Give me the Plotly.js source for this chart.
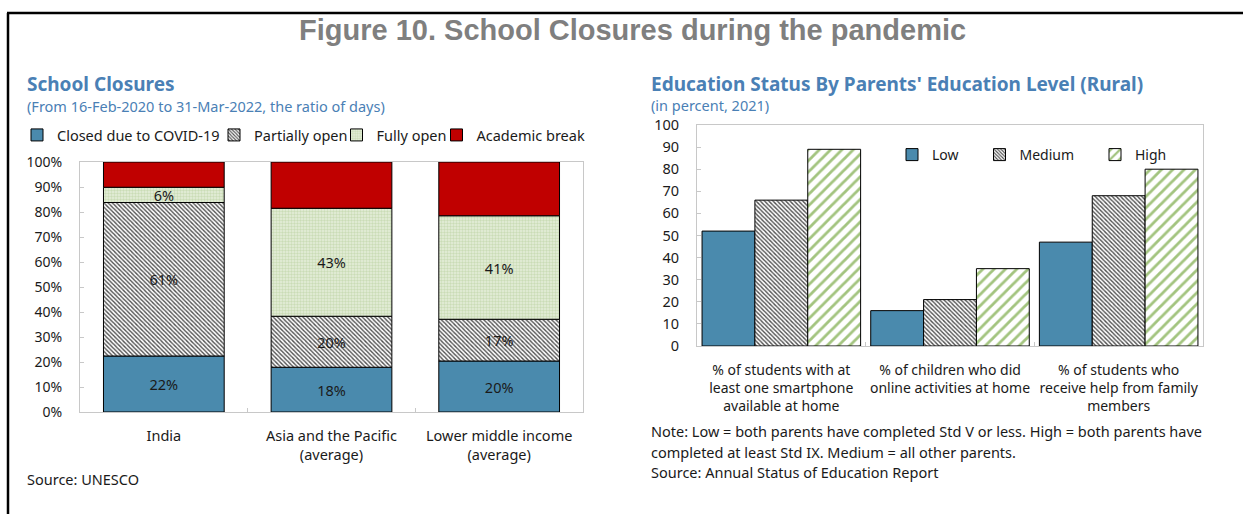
<!DOCTYPE html>
<html>
<head>
<meta charset="utf-8">
<script src="https://cdn.plot.ly/plotly-3.0.1.min.js"></script>
<style>
  html, body { margin: 0; padding: 0; background: #ffffff; }
  #chart { width: 1243px; height: 514px; }
</style>
</head>
<body>
<div id="chart"></div>
<script>
// ---------- Data ----------
const closureCategories = ['India', 'Asia and the Pacific<br>(average)', 'Lower middle income<br>(average)'];
const closedCovid = [22.4, 17.9, 20.4];
const partiallyOpen = [61.4, 20.4, 16.7];
const fullyOpen = [6.1, 43.2, 41.4];
const academicBreak = [10.1, 18.5, 21.5];
const closureTicks = [0, 10, 20, 30, 40, 50, 60, 70, 80, 90, 100];
const closureTickText = ['0%', '10%', '20%', '30%', '40%', '50%', '60%', '70%', '80%', '90%', '100%'];

const statusCategories = [
  '% of students with at<br>least one smartphone<br>available at home',
  '% of children who did<br>online activities at home',
  '% of students who<br>receive help from family<br>members'
];
const lowEdu = [52, 16, 47];
const mediumEdu = [66, 21, 68];
const highEdu = [89, 35, 80];
const statusTicks = [0, 10, 20, 30, 40, 50, 60, 70, 80, 90, 100];

// ---------- Helpers ----------
const W = 1243, H = 514;
const px = x => x / W;
const py = y => 1 - y / H;
const FONT = '"Noto Sans", "Open Sans", sans-serif';
const TXT = '#1a1a1a';
const BLUE_T = '#4a80b5';

const base2 = closedCovid.map((v, i) => v);
const base3 = closedCovid.map((v, i) => v + partiallyOpen[i]);
const base4 = closedCovid.map((v, i) => v + partiallyOpen[i] + fullyOpen[i]);

const lbl = arr => arr.map(v => Math.round(v) + '%');
const barLine = {color: '#000000', width: 1};
const stackW = 0.72;
const hatchDark = {shape: '\\', fgcolor: '#505050', bgcolor: '#ffffff', size: 3, solidity: 0.45};
const dotGreen = {shape: '.', fgcolor: '#cadcb6', bgcolor: '#e7efdc', size: 3, solidity: 0.5};

const traces = [
  {type: 'bar', name: 'Closed due to COVID-19', x: closureCategories, y: closedCovid,
   width: stackW, xaxis: 'x', yaxis: 'y', legend: 'legend',
   marker: {color: '#4a8aad', line: barLine},
   text: lbl(closedCovid), textposition: 'inside', insidetextanchor: 'middle', constraintext: 'none',
   textfont: {family: FONT, size: 14.5, color: TXT}, hoverinfo: 'skip'},
  {type: 'bar', name: 'Partially open', x: closureCategories, y: partiallyOpen, base: base2,
   width: stackW, xaxis: 'x', yaxis: 'y', legend: 'legend2',
   marker: {color: '#ffffff', line: barLine, pattern: hatchDark},
   text: lbl(partiallyOpen), textposition: 'inside', insidetextanchor: 'middle', constraintext: 'none',
   textfont: {family: FONT, size: 14.5, color: TXT}, hoverinfo: 'skip'},
  {type: 'bar', name: 'Fully open', x: closureCategories, y: fullyOpen, base: base3,
   width: stackW, xaxis: 'x', yaxis: 'y', legend: 'legend3',
   marker: {color: '#e4edd8', line: barLine, pattern: dotGreen},
   text: lbl(fullyOpen), textposition: 'inside', insidetextanchor: 'middle', constraintext: 'none',
   textfont: {family: FONT, size: 14.5, color: TXT}, hoverinfo: 'skip'},
  {type: 'bar', name: 'Academic break', x: closureCategories, y: academicBreak, base: base4,
   width: stackW, xaxis: 'x', yaxis: 'y', legend: 'legend4',
   marker: {color: '#c00000', line: barLine}, hoverinfo: 'skip'},

  {type: 'bar', name: 'Low', x: statusCategories, y: lowEdu,
   width: 0.3133, offset: -0.47, xaxis: 'x2', yaxis: 'y2', legend: 'legend5',
   marker: {color: '#4a8aad', line: barLine}, hoverinfo: 'skip'},
  {type: 'bar', name: 'Medium', x: statusCategories, y: mediumEdu,
   width: 0.3133, offset: -0.1567, xaxis: 'x2', yaxis: 'y2', legend: 'legend6',
   marker: {color: '#ffffff', line: barLine, pattern: hatchDark},
   hoverinfo: 'skip'},
  {type: 'bar', name: 'High', x: statusCategories, y: highEdu,
   width: 0.3133, offset: 0.1567, xaxis: 'x2', yaxis: 'y2', legend: 'legend7',
   marker: {color: '#ffffff', line: barLine, pattern: {shape: '/', fgcolor: '#a3c47f', bgcolor: '#ffffff', size: 8, solidity: 0.35}},
   hoverinfo: 'skip'}
];

function legendAt(x, y, size) {
  return {x: px(x), y: py(y), xanchor: 'left', yanchor: 'middle', orientation: 'v',
          bgcolor: 'rgba(0,0,0,0)', borderwidth: 0, itemwidth: 30,
          font: {family: FONT, size: size, color: TXT}, itemclick: false, itemdoubleclick: false};
}

const axisCommon = {
  showline: true, linecolor: '#c8c8c8', linewidth: 1, mirror: true,
  showgrid: false, zeroline: false, fixedrange: true,
  tickfont: {family: FONT, size: 14, color: TXT}
};

function ann(text, x, y, size, color, bold, anchor) {
  return {text: bold ? '<b>' + text + '</b>' : text, x: px(x), y: py(y), xref: 'paper', yref: 'paper',
          xanchor: anchor || 'left', yanchor: 'middle', showarrow: false,
          font: {family: FONT, size: size, color: color}};
}

const layout = {
  width: W, height: H,
  margin: {l: 0, r: 0, t: 0, b: 0},
  paper_bgcolor: '#ffffff', plot_bgcolor: '#ffffff',
  barmode: 'overlay',
  showlegend: true,
  font: {family: FONT, color: TXT},
  xaxis: Object.assign({}, axisCommon, {
    domain: [px(80), px(583)], anchor: 'y', type: 'category',
    ticks: 'inside', ticklen: 4, tickcolor: '#c8c8c8', tickson: 'boundaries',
    ticklabelstandoff: 11, tickangle: 0,
    tickfont: {family: FONT, size: 14.5, color: TXT}
  }),
  yaxis: Object.assign({}, axisCommon, {
    domain: [py(412), py(162)], anchor: 'x', range: [0, 100],
    tickvals: closureTicks, ticktext: closureTickText,
    ticks: 'inside', ticklen: 4, tickcolor: '#c8c8c8', ticklabelstandoff: 14
  }),
  xaxis2: Object.assign({}, axisCommon, {
    domain: [px(697), px(1203)], anchor: 'y2', type: 'category',
    ticks: 'inside', ticklen: 4, tickcolor: '#c8c8c8', tickson: 'boundaries',
    ticklabelstandoff: 11, tickangle: 0,
    tickfont: {family: FONT, size: 14, color: TXT}
  }),
  yaxis2: Object.assign({}, axisCommon, {
    domain: [py(346), py(125)], anchor: 'x2', range: [0, 100],
    tickvals: statusTicks,
    ticks: 'inside', ticklen: 4, tickcolor: '#c8c8c8', ticklabelstandoff: 14,
    tickfont: {family: FONT, size: 14.5, color: TXT}
  }),
  legend: legendAt(17, 135, 14.5),
  legend2: legendAt(214, 135, 14.5),
  legend3: legendAt(336.5, 135, 14.5),
  legend4: legendAt(436.5, 135, 14.5),
  legend5: legendAt(892, 155, 14),
  legend6: legendAt(979.5, 155, 14),
  legend7: legendAt(1095, 155, 14),
  annotations: [
    {text: '<b>Figure 10. School Closures during the pandemic</b>', x: px(632), y: py(30), xref: 'paper', yref: 'paper',
     xanchor: 'center', yanchor: 'middle', showarrow: false,
     font: {family: '"Liberation Sans", Arial, sans-serif', size: 29, color: '#7f7f7f'}},
    ann('School Closures', 25, 84, 19, BLUE_T, true),
    ann('(From 16-Feb-2020 to 31-Mar-2022, the ratio of days)', 25, 106, 14.5, BLUE_T, false),
    ann('Education Status By Parents\' Education Level (Rural)', 649, 84, 19, BLUE_T, true),
    ann('(in percent, 2021)', 649, 105, 14.5, BLUE_T, false),
    ann('Source: UNESCO', 25, 479, 14.5, TXT, false),
    ann('Note: Low = both parents have completed Std V or less. High = both parents have', 649, 431, 14.5, TXT, false),
    ann('completed at least Std IX. Medium = all other parents.', 649, 452, 14.5, TXT, false),
    ann('Source: Annual Status of Education Report', 649, 472, 14.5, TXT, false)
  ],
  shapes: [
    {type: 'line', xref: 'paper', yref: 'paper', x0: px(8), x1: px(8), y0: 0, y1: py(13), line: {color: '#000000', width: 2.5}},
    {type: 'line', xref: 'paper', yref: 'paper', x0: px(7), x1: 1, y0: py(13), y1: py(13), line: {color: '#000000', width: 2.5}}
  ]
};

Plotly.newPlot('chart', traces, layout, {displayModeBar: false, staticPlot: true});
</script>
</body>
</html>
